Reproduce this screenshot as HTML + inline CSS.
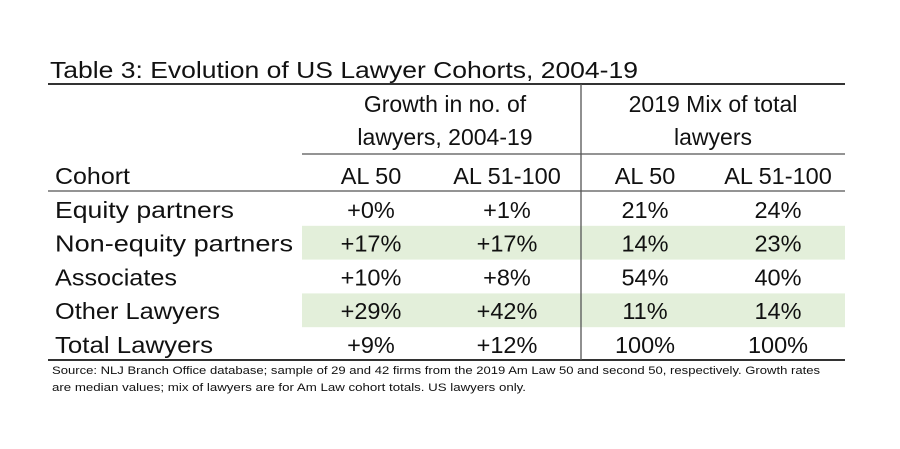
<!DOCTYPE html>
<html><head><meta charset="utf-8"><style>
body{margin:0;background:#fff;}
svg text{font-family:"Liberation Sans Narrow","Liberation Sans",sans-serif;fill:#111;}
</style></head><body>
<svg width="900" height="444">
<rect x="0" y="0" width="900" height="444" fill="#fff"/>
<g id="shade"></g>
<text x="50" y="78" font-size="23.5" textLength="588" lengthAdjust="spacingAndGlyphs">Table 3: Evolution of US Lawyer Cohorts, 2004-19</text>
<line x1="48" y1="84" x2="845" y2="84" stroke="#333" stroke-width="2"/>
<line x1="302" y1="154" x2="845" y2="154" stroke="#555" stroke-width="1.3"/>
<line x1="48" y1="191" x2="845" y2="191" stroke="#555" stroke-width="1.3"/>
<line x1="48" y1="360" x2="845" y2="360" stroke="#333" stroke-width="2"/>
<line x1="581" y1="84" x2="581" y2="360" stroke="#555" stroke-width="1.3"/>
<text x="445" y="112" font-size="23" text-anchor="middle">Growth in no. of</text>
<text x="445" y="145" font-size="23" text-anchor="middle">lawyers, 2004-19</text>
<text x="713" y="112" font-size="23" text-anchor="middle">2019 Mix of total</text>
<text x="713" y="145" font-size="23" text-anchor="middle">lawyers</text>
<g id="body"></g>
<text x="52" y="374" font-size="11" textLength="768" lengthAdjust="spacingAndGlyphs">Source: NLJ Branch Office database; sample of 29 and 42 firms from the 2019 Am Law 50 and second 50, respectively. Growth rates</text>
<text x="52" y="391" font-size="11" textLength="474" lengthAdjust="spacingAndGlyphs">are median values; mix of lawyers are for Am Law cohort totals. US lawyers only.</text>
</svg>
<script>
const headers=["Cohort","AL 50","AL 51-100","AL 50","AL 51-100"];
const cohorts=["Equity partners","Non-equity partners","Associates","Other Lawyers","Total Lawyers"];
const growth50=["+0%","+17%","+10%","+29%","+9%"];
const growth100=["+1%","+17%","+8%","+42%","+12%"];
const mix50=["21%","14%","54%","11%","100%"];
const mix100=["24%","23%","40%","14%","100%"];
const shaded=[false,true,false,true,false];
const labelWidths=[179,238,122,165,158];
const NS="http://www.w3.org/2000/svg";
const colX=[55,371,507,645,778];
const body=document.getElementById('body'), shade=document.getElementById('shade');
function txt(x,y,s,anchor,name,len){const t=document.createElementNS(NS,'text');t.setAttribute('x',x);t.setAttribute('y',y);t.setAttribute('font-size','23.5');t.setAttribute('text-anchor',anchor);t.textContent=s;
if(len){t.setAttribute('textLength',len);t.setAttribute('lengthAdjust','spacingAndGlyphs');}


body.appendChild(t);return t;}
headers.forEach((h,i)=>txt(colX[i],184,h,i?'middle':'start','column-header',i?0:75));
const top0=191,rh=33.8;
cohorts.forEach((c,r)=>{
 const y=top0+rh*r;
 if(shaded[r]){const b=document.createElementNS(NS,'rect');b.setAttribute('x',302);b.setAttribute('y',y+1);b.setAttribute('width',543);b.setAttribute('height',rh);b.setAttribute('fill','#e3efda');
 
 
 shade.appendChild(b);}
 const by=y+rh-7;
 txt(colX[0],by,c,'start','cohort-label',labelWidths[r]);
 txt(colX[1],by,growth50[r],'middle','growth-al50');
 txt(colX[2],by,growth100[r],'middle','growth-al51-100');
 txt(colX[3],by,mix50[r],'middle','mix-al50');
 txt(colX[4],by,mix100[r],'middle','mix-al51-100');
});
</script>
</body></html>
